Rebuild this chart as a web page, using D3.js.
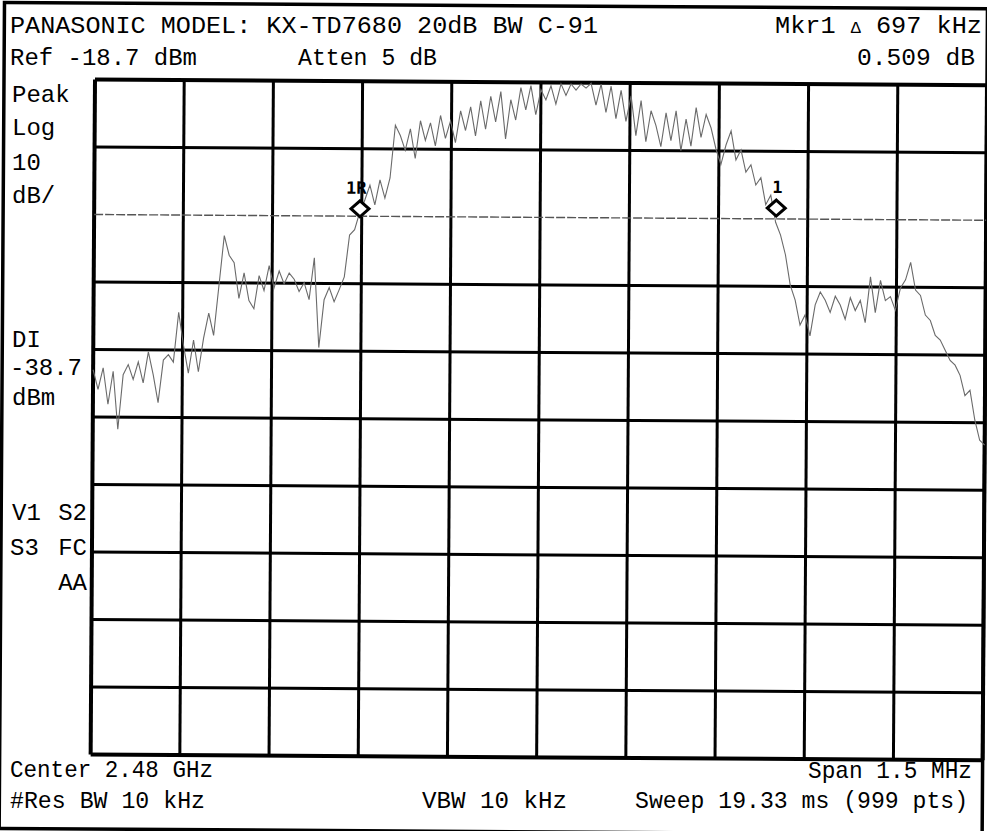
<!DOCTYPE html>
<html><head><meta charset="utf-8">
<script src="https://cdn.jsdelivr.net/npm/d3@7/dist/d3.min.js"></script>
<style>
body{margin:0;background:#fff}
svg{display:block;background:#fff}
text{font-family:"Liberation Mono","DejaVu Sans Mono",monospace;fill:#000}
</style>
</head><body>
<svg id="chart" width="987" height="831"></svg>
<script>
// ---- data ----
const refLevel = -18.7;          // dBm, top graticule line
const dbPerDiv = 10;
const displayLine = -38.7;       // dBm
const spanKHz = 1500;            // centre 2.48 GHz, span 1.5 MHz
const freqTicks = [-750,-600,-450,-300,-150,0,150,300,450,600,750]; // kHz offsets (graticule)
const levelTicks = [-18.7,-28.7,-38.7,-48.7,-58.7,-68.7,-78.7,-88.7,-98.7,-108.7,-118.7];

// trace levels (dBm), equally spaced across the sweep
const traceLevels = [
-61.7,-64.6,-61.4,-66.8,-61.9,-70.5,-62.4,-60.9,-63.1,-60.5,
-63.6,-59.0,-62.4,-66.5,-60.2,-59.4,-60.5,-53.1,-58.0,-62.1,
-57.2,-61.9,-56.9,-53.2,-56.5,-49.1,-41.7,-44.6,-45.7,-51.0,
-47.2,-51.3,-52.5,-47.6,-49.8,-46.1,-49.4,-46.9,-48.8,-47.2,
-48.1,-49.9,-48.6,-51.1,-44.9,-58.2,-51.1,-49.3,-51.4,-49.6,
-47.7,-41.5,-40.7,-38.1,-36.3,-34.1,-37.0,-33.3,-36.0,-33.0,
-25.2,-26.7,-28.9,-25.7,-30.1,-24.5,-27.4,-24.8,-28.2,-23.7,
-27.1,-24.5,-27.7,-23.0,-25.9,-22.4,-26.7,-21.5,-25.7,-20.8,
-24.6,-20.1,-27.1,-21.3,-24.3,-19.5,-22.8,-19.2,-23.5,-19.8,
-21.3,-19.2,-21.9,-18.9,-20.6,-18.9,-19.8,-18.9,-19.5,-18.8,
-22.0,-18.9,-23.1,-19.2,-24.0,-19.8,-24.4,-20.6,-26.5,-21.3,
-27.4,-22.8,-25.0,-28.1,-23.1,-27.2,-22.8,-28.7,-24.0,-28.0,
-22.3,-26.7,-23.3,-25.3,-28.4,-30.7,-27.8,-25.7,-30.0,-28.5,
-31.8,-30.7,-33.7,-32.6,-36.6,-35.2,-39.2,-41.1,-44.0,-48.5,
-50.7,-54.4,-52.9,-56.0,-51.4,-49.5,-50.7,-52.5,-50.1,-51.4,
-53.5,-50.3,-52.2,-50.7,-54.0,-47.2,-52.5,-47.7,-50.7,-50.1,
-52.1,-48.8,-47.6,-45.0,-49.1,-49.9,-52.8,-53.6,-55.8,-56.5,
-58.0,-59.5,-60.2,-61.7,-64.7,-63.9,-68.3,-71.3,-72.0
];

const markerNames  = ["1R", "1"];
const markerFreqs  = [-303, 397];   // kHz offset from centre
const markerLevels = [-37.6, -37.1]; // dBm

const headerTopLeft  = ["PANASONIC MODEL: KX-TD7680 20dB BW C-91", "Ref -18.7 dBm"];
const headerMid      = "Atten 5 dB";
const headerRight    = ["697 kHz", "0.509 dB"];
const sideLabels     = ["Peak", "Log", "10", "dB/"];
const dlLabels       = ["DI", "-38.7", "dBm"];
const footerLeft     = ["Center 2.48 GHz", "#Res BW 10 kHz"];
const footerMid      = "VBW 10 kHz";
const footerRight    = ["Span 1.5 MHz", "Sweep 19.33 ms (999 pts)"];

// ---- drawing ----
const svg = d3.select("#chart");
const W = 892, H = 675;
const x = d3.scaleLinear().domain([-spanKHz/2, spanKHz/2]).range([0, W]);
const y = d3.scaleLinear().domain([refLevel - 10*dbPerDiv, refLevel]).range([H, 0]);

// plot area is slightly rotated in the scan
const g = svg.append("g").attr("transform", "translate(95,79.5) rotate(0.37)");

// outer frame
g.append("rect").attr("x", -91).attr("y", -76.5).attr("width", 983).attr("height", 826)
  .attr("fill", "none").attr("stroke", "#000").attr("stroke-width", 3.5);

// graticule
g.append("g").selectAll("line").data(freqTicks).join("line")
  .attr("x1", d => x(d)).attr("x2", d => x(d)).attr("y1", 0).attr("y2", H)
  .attr("stroke", "#000")
  .attr("stroke-width", (d,i) => (i === 0 || i === freqTicks.length-1) ? 4 : 3);

g.append("g").selectAll("line").data(levelTicks.filter(d => d !== displayLine)).join("line")
  .attr("x1", 0).attr("x2", W).attr("y1", d => y(d)).attr("y2", d => y(d))
  .attr("stroke", "#000")
  .attr("stroke-width", d => (d === levelTicks[0] || d === levelTicks[levelTicks.length-1]) ? 4 : 3);

// display line
g.append("line").attr("x1", 0).attr("x2", W).attr("y1", y(displayLine)).attr("y2", y(displayLine))
  .attr("stroke", "#555").attr("stroke-width", 1.4).attr("stroke-dasharray", "9,2");

// trace
const n = traceLevels.length;
const freqOf = i => -spanKHz/2 + i * spanKHz/(n-1);
const line = d3.line().x((d,i) => x(freqOf(i))).y(d => y(d));
g.append("path").datum(traceLevels).attr("d", line)
  .attr("fill", "none").attr("stroke", "#6a6a6a").attr("stroke-width", 1.1);

// markers
const mk = g.append("g").selectAll("g").data(markerNames).join("g")
  .attr("transform", (d,i) => `translate(${x(markerFreqs[i])},${y(markerLevels[i])})`);
mk.append("path").attr("d", "M0,-8 L9,0 L0,8 L-9,0 Z")
  .attr("fill", "#fff").attr("stroke", "#000").attr("stroke-width", 3);
mk.append("text").attr("x", (d,i) => i === 0 ? -14 : -4).attr("y", -15)
  .attr("font-size", 17).attr("font-weight", "bold")
  .style("font-family", "'DejaVu Sans Mono',monospace").text(d => d);

// header / footer texts
const T = (s, xx, yy, anchor, len) => {
  const t = svg.append("text").attr("x", xx).attr("y", yy).attr("font-size", 24)
    .attr("text-anchor", anchor || "start").text(s);
  if (len) t.attr("textLength", len).attr("lengthAdjust", "spacingAndGlyphs");
  return t;
};
T(headerTopLeft[0], 10, 33, "start", 588);
T(headerTopLeft[1], 10, 65, "start", 187);
T(headerMid, 298, 65, "start", 139);
const mkr = svg.append("text").attr("x", 775).attr("y", 33).attr("font-size", 24)
  .attr("textLength", 207).attr("lengthAdjust", "spacingAndGlyphs");
mkr.append("tspan").text("Mkr1 ");
mkr.append("tspan").attr("font-size", 16).text("\u0394");
mkr.append("tspan").text("  " + headerRight[0]);
T(headerRight[1], 857, 65, "start", 118);

const sideY = [102, 135, 170, 203];
sideLabels.forEach((s,i) => T(s, 12, sideY[i]));
const dlY = [347, 375, 405];
dlLabels.forEach((s,i) => T(s, i === 1 ? 10 : 12, dlY[i]));

T("V1", 12, 520); T("S2", 87, 520, "end");
T("S3", 10, 555); T("FC", 87, 555, "end");
T("AA", 87, 590, "end");

T(footerLeft[0], 10, 777, "start", 203);
T(footerLeft[1], 10, 808, "start", 195);
T(footerMid, 422, 808, "start", 145);
T(footerRight[0], 808, 778, "start", 164);
T(footerRight[1], 635, 808, "start", 333);
</script>
</body></html>
